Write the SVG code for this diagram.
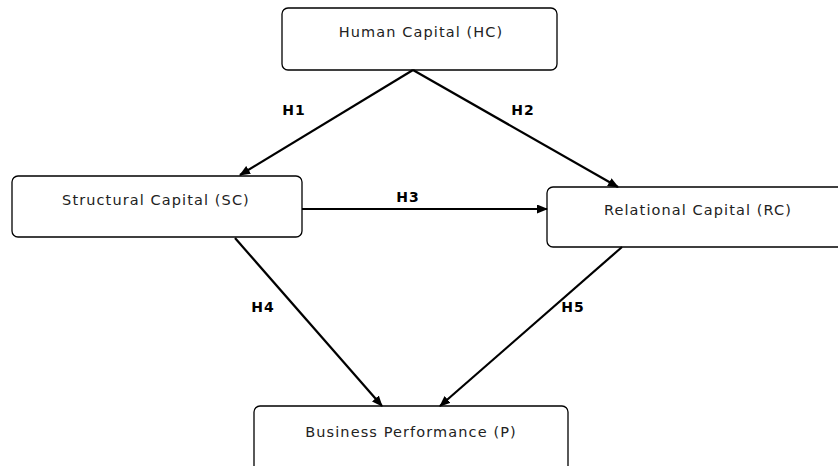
<svg xmlns="http://www.w3.org/2000/svg" width="838" height="466" viewBox="0 0 838 466">
<style>
.box{fill:#fff;stroke:#000;stroke-width:1.3}
.t{font-family:"DejaVu Sans",sans-serif;font-size:14.5px;fill:#222;text-anchor:middle;letter-spacing:1.1px}
.lbl{font-family:"DejaVu Sans",sans-serif;font-size:14px;font-weight:bold;fill:#000;text-anchor:middle;letter-spacing:1px}
.c{stroke:#000;stroke-width:2.2;fill:none}
</style>
<defs>
<marker id="ah" markerWidth="11" markerHeight="9" refX="10" refY="4.5" orient="auto" markerUnits="userSpaceOnUse">
<path d="M0,0 L11,4.5 L0,9 Z" fill="#000"/>
</marker>
</defs>
<rect width="838" height="466" fill="#fff"/>
<g id="hc">
<rect class="box" x="282" y="8" width="275" height="62" rx="6"/>
<text class="t" x="421" y="37">Human Capital (HC)</text>
</g>
<g id="sc">
<rect class="box" x="12" y="176" width="290" height="61" rx="6"/>
<text class="t" x="156" y="205">Structural Capital (SC)</text>
</g>
<g id="rc">
<rect class="box" x="547" y="187" width="300" height="60" rx="6"/>
<text class="t" x="698" y="215">Relational Capital (RC)</text>
</g>
<g id="bp">
<rect class="box" x="254" y="406" width="314" height="70" rx="6"/>
<text class="t" x="411" y="437">Business Performance (P)</text>
</g>
<g id="connectors">
<line class="c" x1="413" y1="70" x2="240" y2="175" marker-end="url(#ah)"/>
<line class="c" x1="413" y1="70" x2="618" y2="187" marker-end="url(#ah)"/>
<line class="c" x1="302" y1="209" x2="547" y2="209" marker-end="url(#ah)"/>
<line class="c" x1="235" y1="238" x2="382" y2="406" marker-end="url(#ah)"/>
<line class="c" x1="622" y1="247" x2="440" y2="406" marker-end="url(#ah)"/>
<text class="lbl" x="294" y="115">H1</text>
<text class="lbl" x="523" y="115">H2</text>
<text class="lbl" x="408" y="202">H3</text>
<text class="lbl" x="263" y="312">H4</text>
<text class="lbl" x="573" y="312">H5</text>
</g>
</svg>
